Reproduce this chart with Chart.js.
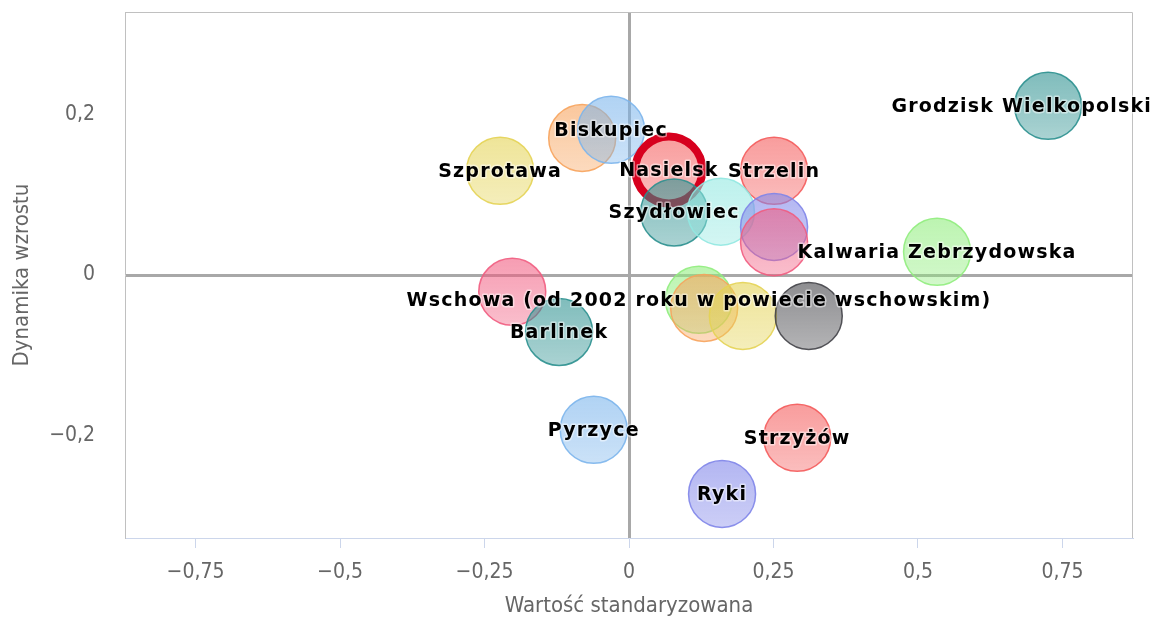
<!DOCTYPE html>
<html>
<head>
<meta charset="utf-8">
<script src="https://cdn.jsdelivr.net/npm/chart.js@4"></script>
<style>
  body { margin: 0; background: #fff; }
  #wrap { width: 1154px; height: 617px; }
</style>
</head>
<body>
<div id="wrap"><canvas id="chart" width="1154" height="617"></canvas></div>
<script>
// Point names ('' = label hidden in the original)
const names = [
  'Szprotawa', '', 'Biskupiec', 'Nasielsk', 'Strzelin', 'Szydłowiec', '', '', '',
  'Kalwaria Zebrzydowska', 'Grodzisk Wielkopolski', '', 'Barlinek',
  'Wschowa (od 2002 roku w powiecie wschowskim)', '', '', '', 'Pyrzyce', 'Strzyżów', 'Ryki'
];
// Wartość standaryzowana
const xValues = [
  -0.223, -0.081, -0.031, 0.069, 0.251, 0.078, 0.159, 0.251, 0.251,
  0.533, 0.725, -0.202, -0.121, 0.121, 0.130, 0.197, 0.311, -0.061, 0.291, 0.161
];
// Dynamika wzrostu
const yValues = [
  0.130, 0.171, 0.181, 0.131, 0.130, 0.078, 0.079, 0.060, 0.041,
  0.029, 0.211, -0.021, -0.071, -0.031, -0.041, -0.051, -0.051, -0.193, -0.203, -0.273
];
const xTicks = [-0.75, -0.5, -0.25, 0, 0.25, 0.5, 0.75];
const yTicks = [-0.2, 0, 0.2];

// colours per point (Highcharts palette)
const pointColors = [
  '#e4d354', '#f7a35c', '#7cb5ec', '#f45b5b', '#f45b5b', '#2b908f', '#91e8e1', '#8085e9', '#f15c80',
  '#90ed7d', '#2b908f', '#f15c80', '#2b908f', '#90ed7d', '#f7a35c', '#e4d354', '#434348',
  '#7cb5ec', '#f45b5b', '#8085e9'
];
const highlighted = 'Nasielsk';

function rgba(hex, a) {
  const n = parseInt(hex.slice(1), 16);
  return `rgba(${(n >> 16) & 255},${(n >> 8) & 255},${n & 255},${a})`;
}

function fmt(v) {
  if (v === 0) return '0';
  return (v < 0 ? '\u2212' : '') + Math.abs(v).toString().replace('.', ',');
}

const points = xValues.map((x, i) => ({ x: x, y: yValues[i] }));
const RADIUS = 33.5;

const tickFont = { family: 'DejaVu Sans Condensed', size: 21 };
const titleFont = { family: 'DejaVu Sans Condensed', size: 22, lineHeight: 1 };

// frame on top/right of the plot area
const frame = {
  id: 'frame',
  beforeDatasetsDraw(chart) {
    const { ctx, chartArea: a } = chart;
    ctx.save();
    ctx.strokeStyle = '#c0c0c0';
    ctx.lineWidth = 1;
    ctx.beginPath();
    ctx.moveTo(a.left, a.top + 0.5);
    ctx.lineTo(a.right - 0.5, a.top + 0.5);
    ctx.lineTo(a.right - 0.5, a.bottom);
    ctx.stroke();
    ctx.restore();
  }
};

// bubble names drawn over everything
const bubbleLabels = {
  id: 'bubbleLabels',
  afterDatasetsDraw(chart) {
    const ctx = chart.ctx;
    const meta = chart.getDatasetMeta(0);
    ctx.save();
    ctx.font = 'bold 19px "DejaVu Sans"';
    ctx.letterSpacing = '1.2px';
    ctx.textBaseline = 'middle';
    ctx.textAlign = 'left';
    meta.data.forEach((el, i) => {
      const label = names[i];
      if (!label) return;
      const w = ctx.measureText(label).width;
      let x = el.x - w / 2;
      x = Math.max(2, Math.min(x, chart.width - 2 - w));
      ctx.lineWidth = 3;
      ctx.lineJoin = 'round';
      ctx.strokeStyle = 'rgba(255,255,255,0.5)';
      ctx.strokeText(label, x, el.y + 1);
      ctx.fillStyle = '#000';
      ctx.fillText(label, x, el.y + 1);
    });
    ctx.restore();
  }
};

function bubbleFill(c) {
  const col = pointColors[c.dataIndex];
  const chart = c.chart;
  const ys = chart.scales.y;
  if (!ys || !c.raw) return rgba(col, 0.5);
  const cy = ys.getPixelForValue(c.raw.y);
  if (!isFinite(cy)) return rgba(col, 0.5);
  const g = chart.ctx.createLinearGradient(0, cy - RADIUS, 0, cy + RADIUS);
  g.addColorStop(0, rgba(col, 0.6));
  g.addColorStop(1, rgba(col, 0.4));
  return g;
}

new Chart(document.getElementById('chart'), {
  type: 'bubble',
  data: {
    datasets: [{
      data: points,
      radius: RADIUS,
      backgroundColor: bubbleFill,
      borderColor: c => names[c.dataIndex] === highlighted ? '#d7001e' : rgba(pointColors[c.dataIndex], 0.9),
      borderWidth: c => names[c.dataIndex] === highlighted ? 8 : 1.5
    }]
  },
  options: {
    responsive: false,
    animation: false,
    events: [],
    layout: { autoPadding: false, padding: { left: 0, top: 12, right: 21, bottom: 0 } },
    plugins: {
      legend: { display: false },
      tooltip: { enabled: false }
    },
    scales: {
      x: {
        type: 'linear',
        min: -0.872,
        max: 0.872,
        afterBuildTicks: s => { s.ticks = xTicks.map(v => ({ value: v })); },
        afterFit: s => { s.height = 79; s.paddingLeft = 0; s.paddingRight = 0; },
        ticks: {
          font: tickFont,
          color: '#666',
          padding: 12,
          maxRotation: 0,
          callback: v => fmt(v)
        },
        grid: {
          color: c => c.tick && c.tick.value === 0 ? '#a8a8a8' : 'rgba(0,0,0,0)',
          lineWidth: c => c.tick && c.tick.value === 0 ? 3 : 1,
          tickColor: '#ccd6eb',
          tickWidth: 1,
          tickLength: 10
        },
        border: { color: '#ccd6eb', width: 1 },
        title: {
          display: true,
          text: 'Wartość standaryzowana',
          font: titleFont,
          color: '#666',
          padding: { top: 0, bottom: 0 }
        }
      },
      y: {
        type: 'linear',
        min: -0.328,
        max: 0.328,
        afterBuildTicks: s => { s.ticks = yTicks.map(v => ({ value: v })); },
        afterFit: s => { s.width = 125; s.paddingTop = 0; s.paddingBottom = 0; },
        ticks: {
          font: tickFont,
          color: '#666',
          padding: 30,
          callback: v => fmt(v)
        },
        grid: {
          color: c => c.tick && c.tick.value === 0 ? '#a8a8a8' : 'rgba(0,0,0,0)',
          lineWidth: c => c.tick && c.tick.value === 0 ? 3 : 1,
          drawTicks: false
        },
        border: { color: '#c0c0c0', width: 1 },
        title: {
          display: true,
          text: 'Dynamika wzrostu',
          font: titleFont,
          color: '#666',
          padding: { top: 11, bottom: 0 }
        }
      }
    }
  },
  plugins: [frame, bubbleLabels]
});
</script>
</body>
</html>
